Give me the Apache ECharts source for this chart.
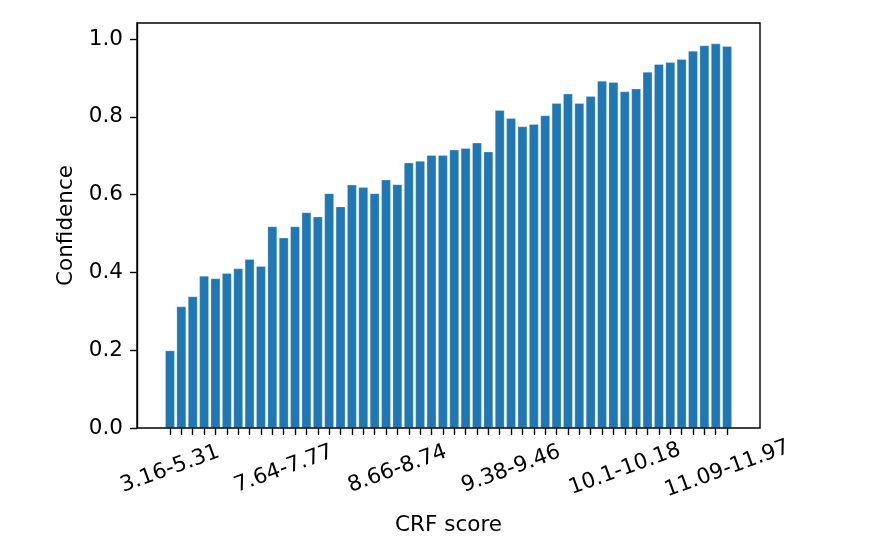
<!DOCTYPE html>
<html>
<head>
<meta charset="utf-8">
<script src="https://cdn.jsdelivr.net/npm/echarts@6/dist/echarts.min.js"></script>
<style>
html,body{margin:0;padding:0;background:#fff;}
#chart{width:892px;height:559px;}
</style>
</head>
<body>
<div id="chart"></div>
<script>
// Confidence per CRF-score bin (50 bins)
const confidence = [
  0.199, 0.312, 0.338, 0.391, 0.384, 0.398, 0.410, 0.434, 0.416, 0.518,
  0.489, 0.518, 0.554, 0.543, 0.603, 0.569, 0.625, 0.619, 0.603, 0.638,
  0.626, 0.682, 0.686, 0.701, 0.701, 0.715, 0.719, 0.733, 0.710, 0.817,
  0.796, 0.775, 0.781, 0.803, 0.835, 0.859, 0.835, 0.853, 0.892, 0.889,
  0.865, 0.872, 0.915, 0.935, 0.940, 0.948, 0.969, 0.983, 0.988, 0.981
];
// Labelled bin positions and their tick labels
const tickIndex = [0, 10, 20, 30, 40, 49];
const tickLabels = ['3.16-5.31', '7.64-7.77', '8.66-8.74', '9.38-9.46', '10.1-10.18', '11.09-11.97'];
const yTicks = [0, 0.2, 0.4, 0.6, 0.8, 1.0];
const xTitle = 'CRF score';
const yTitle = 'Confidence';

const categories = confidence.map((_, i) => String(i));
const labelFor = {};
tickIndex.forEach((ix, k) => { labelFor[ix] = tickLabels[k]; });

const yMax = 1.041;
const font = 'DejaVu Sans';
const fs = 21.5;

const chart = echarts.init(document.getElementById('chart'), null, {renderer: 'canvas'});
chart.setOption({
  animation: false,
  backgroundColor: '#fff',
  grid: [
    {left: 164.3, top: 23, width: 568.5, height: 405, containLabel: false},
    {left: 137, top: 23, width: 623, height: 405, containLabel: false,
     show: true, borderColor: '#000', borderWidth: 1.4, backgroundColor: 'transparent', z: 5}
  ],
  xAxis: [
    {
      type: 'category', gridIndex: 0, data: categories,
      boundaryGap: true,
      axisLine: {show: false},
      axisTick: {show: true, interval: 0, alignWithLabel: true, length: 7, inside: false,
                 lineStyle: {color: '#000', width: 1.4}},
      axisLabel: {
        interval: (i) => labelFor[i] !== undefined,
        formatter: (v, i) => labelFor[i] || '',
        rotate: 20, align: 'center', verticalAlign: 'middle', margin: 41,
        color: '#000', fontFamily: font, fontSize: fs
      },
      name: xTitle, nameLocation: 'middle', nameGap: 86,
      nameTextStyle: {color: '#000', fontFamily: font, fontSize: fs}
    },
    {type: 'value', gridIndex: 1, show: false, min: 0, max: 1}
  ],
  yAxis: [
    {type: 'value', gridIndex: 0, show: false, min: 0, max: yMax},
    {
      type: 'value', gridIndex: 1, min: 0, max: yMax,
      axisLine: {show: true, lineStyle: {color: '#000', width: 1.4}},
      axisTick: {show: true, length: 7, inside: false, customValues: yTicks,
                 lineStyle: {color: '#000', width: 1.4}},
      axisLabel: {customValues: yTicks, formatter: (v) => v.toFixed(1), margin: 14,
                  color: '#000', fontFamily: font, fontSize: fs},
      splitLine: {show: false},
      name: yTitle, nameLocation: 'middle', nameGap: 60,
      nameTextStyle: {color: '#000', fontFamily: font, fontSize: fs}
    }
  ],
  series: [{
    type: 'bar', xAxisIndex: 0, yAxisIndex: 0,
    data: confidence,
    barCategoryGap: '17%',
    itemStyle: {color: '#1f77b4', borderColor: 'rgba(255,255,255,0.5)', borderWidth: 0.5}
  }]
});
</script>
</body>
</html>
